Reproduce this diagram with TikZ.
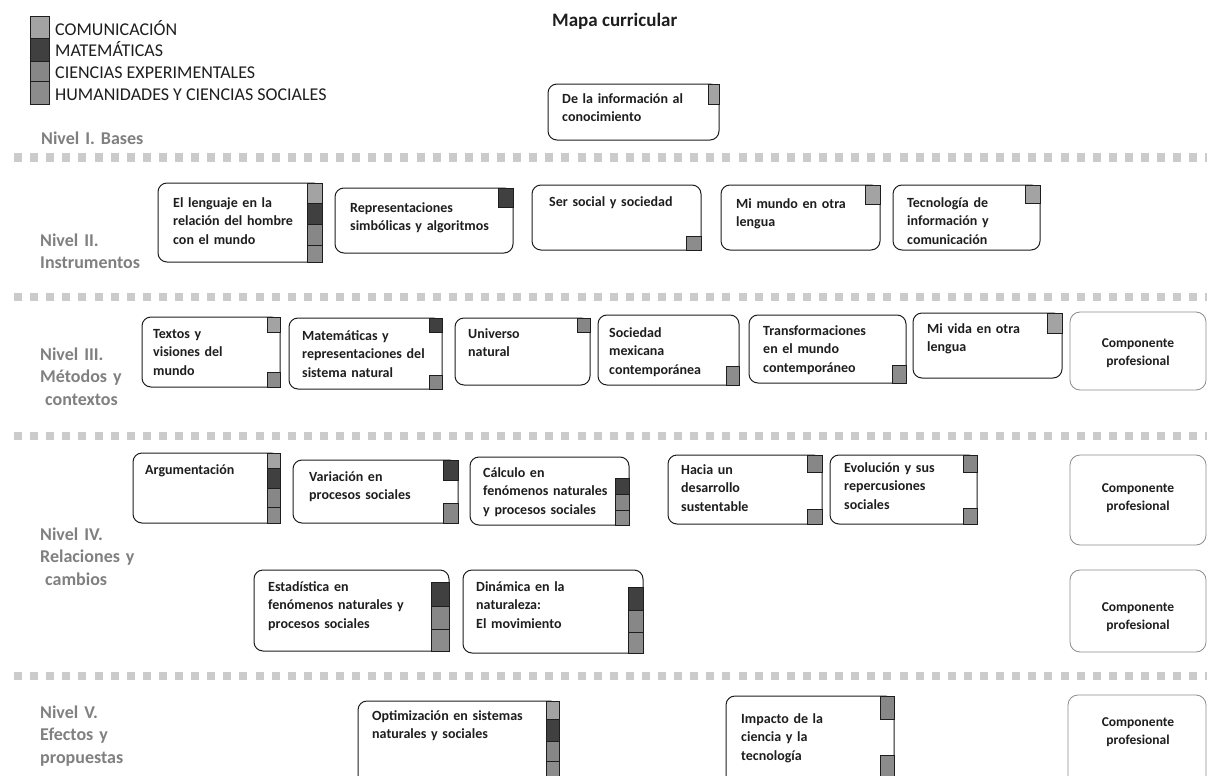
\documentclass[tikz,border=0pt]{standalone}
\usepackage{fontspec}
\setmainfont{Carlito}
\usetikzlibrary{fit}
\definecolor{cl}{HTML}{A3A3A3}
\definecolor{cm}{HTML}{404040}
\definecolor{ce}{HTML}{878787}
\definecolor{ch}{HTML}{8C8C8C}
\definecolor{lvl}{HTML}{808080}
\definecolor{sepc}{HTML}{CBCBCB}
\definecolor{ink}{HTML}{1E1E1E}
\tikzset{
  coursebox/.style={draw=ink, line width=1pt, rounded corners=9pt, fill=white, inner sep=0pt},
  compbox/.style={draw=black!45, line width=0.8pt, rounded corners=10pt, fill=white, inner sep=0pt},
  sqbox/.style={draw=ink, line width=0.8pt},
  ctext/.style={anchor=base west, inner sep=0pt, align=left, text width=200pt, text=ink,
    font=\bfseries\fontsize{14}{18.6}\selectfont},
  comptext/.style={anchor=base, inner sep=0pt, align=center, text width=130pt, text=ink,
    font=\bfseries\fontsize{13.5}{18.5}\selectfont},
  lvltext/.style={anchor=base west, inner sep=0pt, align=left, text width=160pt, text=lvl,
    font=\bfseries\fontsize{18}{22.5}\selectfont},
  legtext/.style={anchor=base west, inner sep=0pt, text=ink, font=\fontsize{18}{22}\selectfont},
  titletext/.style={anchor=base west, inner sep=0pt, text=ink, font=\bfseries\fontsize{19}{24}\selectfont},
  sepline/.style={draw=sepc, line width=8.3pt, dash pattern=on 8pt off 8.1pt}
}
\newcommand\sqr[5]{\draw[sqbox, fill=#1] (#2,#3) rectangle (#4,#5);}
\begin{document}
\begin{tikzpicture}[x=1pt,y=-1pt]
\useasboundingbox (0,0) rectangle (1207,776);
\clip (0,0) rectangle (1207,776);
\fill[white] (0,0) rectangle (1207,776);

% legend
\sqr{cl}{30}{16.7}{49}{38.3}
\sqr{cm}{30}{38.3}{49}{61}
\sqr{ce}{30}{61}{49}{81.7}
\sqr{ch}{30}{81.7}{49}{104.3}
\node[legtext] (lg1) at (55,35.7) {COMUNICACIÓN};
\node[legtext] (lg2) at (55,56.7) {MATEMÁTICAS};
\node[legtext] (lg3) at (55,78.3) {CIENCIAS EXPERIMENTALES};
\node[legtext] (lg4) at (55,100) {HUMANIDADES Y CIENCIAS SOCIALES};

% title
\node[titletext] (title) at (552,27) {Mapa curricular};

% separators
\foreach \yy/\nm in {157.5/a,297/b,436/c,676/d}{
  \coordinate (sep\nm l) at (14,\yy);
  \coordinate (sep\nm r) at (1207,\yy);
  \draw[sepline] (sep\nm l) -- (sep\nm r);
}

% level labels
\node[lvltext] (lv1) at (41,144) {Nivel I. Bases};
\node[lvltext] (lv2) at (40,246) {Nivel II.\\Instrumentos};
\node[lvltext] (lv3) at (40,360) {Nivel III.\\Métodos y\\\hspace*{5pt}contextos};
\node[lvltext] (lv4) at (40,540) {Nivel IV.\\Relaciones y\\\hspace*{5pt}cambios};
\node[lvltext] (lv5) at (40,718) {Nivel V.\\Efectos y\\propuestas};

% Level I
\node[coursebox, fit={(548,84) (719,140)}] (info) {};
\sqr{cl}{708}{84}{719}{104}
\node[ctext] (infot) at (562,103) {De la información al\\conocimiento};

% Level II
\node[coursebox, fit={(158,183) (322,262)}] (leng) {};
\sqr{cl}{307}{183}{322}{203}
\sqr{cm}{307}{203}{322}{224}
\sqr{ce}{307}{224}{322}{245}
\sqr{ch}{307}{245}{322}{262}
\node[ctext] (lengt) at (173,207) {El lenguaje en la\\relación del hombre\\con el mundo};

\node[coursebox, fit={(335,188) (513,253)}] (repr) {};
\sqr{cm}{498}{188}{513}{207}
\node[ctext] (reprt) at (350,212) {Representaciones\\simbólicas y algoritmos};

\node[coursebox, fit={(532,185) (701,250)}] (ser) {};
\sqr{ch}{686}{236}{701}{250}
\node[ctext] (sert) at (549,206) {Ser social y sociedad};

\node[coursebox, fit={(721,185) (880,250)}] (mimu) {};
\sqr{cl}{865}{185}{880}{204}
\node[ctext] (mimut) at (736,208) {Mi mundo en otra\\lengua};

\node[coursebox, fit={(893,185) (1040,250)}] (tecn) {};
\sqr{cl}{1025}{185}{1040}{203}
\node[ctext] (tecnt) at (907,207) {Tecnología de\\información y\\comunicación};

% Level III
\node[coursebox, fit={(142,317) (280,387)}] (text) {};
\sqr{cl}{267}{317}{280}{332}
\sqr{ch}{267}{372}{280}{387}
\node[ctext] (textt) at (153,338) {Textos y\\visiones del\\mundo};

\node[coursebox, fit={(289,318) (442,389)}] (mats) {};
\sqr{cm}{429}{318}{442}{332}
\sqr{ce}{429}{375}{442}{389}
\node[ctext] (matst) at (302,340) {Matemáticas y\\representaciones del\\sistema natural};

\node[coursebox, fit={(455,318) (590,385)}] (univ) {};
\sqr{ce}{577}{318}{590}{332}
\node[ctext] (univt) at (468,338) {Universo\\natural};

\node[coursebox, fit={(598,315) (739,385)}] (soci) {};
\sqr{ch}{726}{366}{739}{385}
\node[ctext] (socit) at (609,337) {Sociedad\\mexicana\\contemporánea};

\node[coursebox, fit={(749,315) (906,383)}] (tran) {};
\sqr{ch}{892}{365}{906}{383}
\node[ctext] (trant) at (763,335) {Transformaciones\\en el mundo\\contemporáneo};

\node[coursebox, fit={(913,313) (1062,378)}] (mivi) {};
\sqr{cl}{1047}{313}{1062}{333}
\node[ctext] (mivit) at (927,333) {Mi vida en otra\\lengua};

\node[compbox, fit={(1070,312) (1206,390)}] (compA) {};
\node[comptext] (compAt) at (1138,347) {Componente\\profesional};

% Level IV row 1
\node[coursebox, fit={(133,453) (280,523)}] (argu) {};
\sqr{cl}{267}{453}{280}{468}
\sqr{cm}{267}{468}{280}{488}
\sqr{ce}{267}{488}{280}{507}
\sqr{ch}{267}{507}{280}{523}
\node[ctext] (argut) at (145,474) {Argumentación};

\node[coursebox, fit={(293,460) (458,523)}] (vari) {};
\sqr{cm}{443}{460}{458}{480}
\sqr{ce}{443}{503}{458}{523}
\node[ctext] (varit) at (309,481) {Variación en\\procesos sociales};

\node[coursebox, fit={(470,457) (629,525)}] (calc) {};
\sqr{cm}{615}{478}{629}{494}
\sqr{ce}{615}{494}{629}{510}
\sqr{ch}{615}{510}{629}{525}
\node[ctext] (calct) at (483,477) {Cálculo en\\fenómenos naturales\\y procesos sociales};

\node[coursebox, fit={(668,455) (822,524)}] (haci) {};
\sqr{ce}{807}{455}{822}{472}
\sqr{ch}{807}{509}{822}{524}
\node[ctext] (hacit) at (681,474) {Hacia un\\desarrollo\\sustentable};

\node[coursebox, fit={(830,455) (977,524)}] (evol) {};
\sqr{ce}{963}{455}{977}{472}
\sqr{ch}{963}{508}{977}{524}
\node[ctext] (evolt) at (844,472) {Evolución y sus\\repercusiones\\sociales};

\node[compbox, fit={(1070,455) (1206,545)}] (compB) {};
\node[comptext] (compBt) at (1138,492) {Componente\\profesional};

% Level IV row 2
\node[coursebox, fit={(254,570) (449,651)}] (esta) {};
\sqr{cm}{431}{582}{449}{606}
\sqr{ce}{431}{606}{449}{629}
\sqr{ch}{431}{629}{449}{651}
\node[ctext] (estat) at (268,591) {Estadística en\\fenómenos naturales y\\procesos sociales};

\node[coursebox, fit={(463,570) (643,653)}] (dina) {};
\sqr{cm}{628}{587}{643}{610}
\sqr{ce}{628}{610}{643}{632}
\sqr{ch}{628}{632}{643}{653}
\node[ctext] (dinat) at (476,591) {Dinámica en la\\naturaleza:\\El movimiento};

\node[compbox, fit={(1070,570) (1206,652)}] (compC) {};
\node[comptext] (compCt) at (1138,611) {Componente\\profesional};

% Level V
\node[coursebox, fit={(358,701) (559,800)}] (opti) {};
\sqr{cl}{546}{701}{559}{719}
\sqr{cm}{546}{719}{559}{741}
\sqr{ce}{546}{741}{559}{761}
\sqr{ch}{546}{761}{559}{800}
\node[ctext] (optit) at (372,720) {Optimización en sistemas\\naturales y sociales};

\node[coursebox, fit={(726,696) (894,800)}] (impa) {};
\sqr{ce}{880}{696}{894}{719}
\sqr{ch}{880}{755}{894}{800}
\node[ctext] (impat) at (741,723) {Impacto de la\\ciencia y la\\tecnología};

\node[compbox, fit={(1068,695) (1206,800)}] (compD) {};
\node[comptext] (compDt) at (1138,726) {Componente\\profesional};
\end{tikzpicture}
\end{document}
